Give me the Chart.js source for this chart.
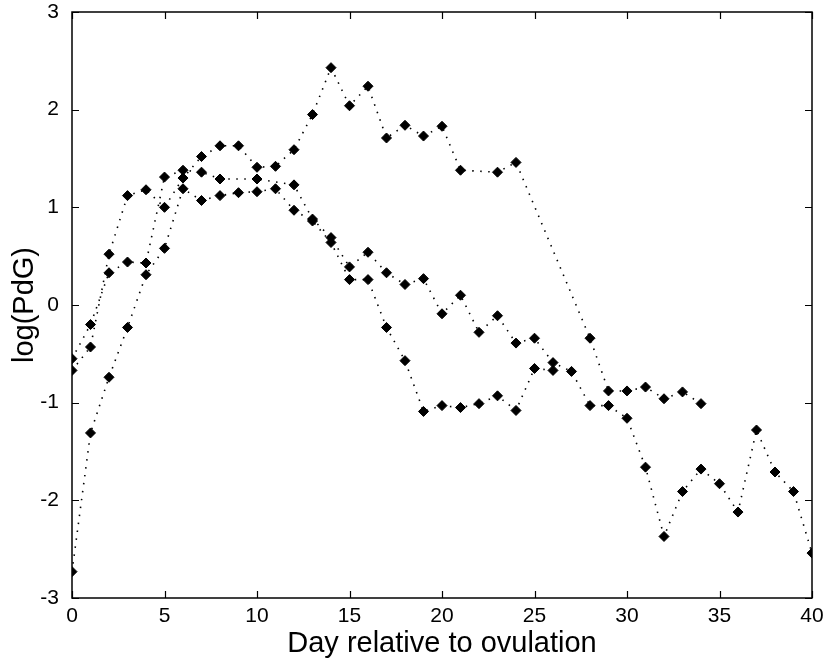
<!DOCTYPE html>
<html>
<head>
<meta charset="utf-8">
<script src="https://cdn.jsdelivr.net/npm/chart.js@4/dist/chart.umd.min.js"></script>
<style>
  html, body { margin: 0; padding: 0; background: #ffffff; }
  #wrap { width: 825px; height: 662px; }
</style>
</head>
<body>
<div id="wrap"><canvas id="c" width="825" height="662"></canvas></div>
<script>
// ---- data ----
const xTitle = "Day relative to ovulation";
const yTitle = "log(PdG)";
const xTicks = [0, 5, 10, 15, 20, 25, 30, 35, 40];
const yTicks = [-3, -2, -1, 0, 1, 2, 3];

const daysA = [0, 1, 2, 3, 4, 5, 6, 7, 8, 9, 10, 11, 12, 13, 14, 15, 16, 17, 18, 19, 20, 21, 23, 24, 28, 29, 30, 31, 32, 33, 34];
const valsA = [-0.67, -0.43, 0.52, 1.12, 1.18, 1.00, 1.30, 1.52, 1.63, 1.63, 1.41, 1.42, 1.59, 1.95, 2.43, 2.04, 2.24, 1.71, 1.84, 1.73, 1.83, 1.38, 1.36, 1.46, -0.34, -0.88, -0.88, -0.84, -0.96, -0.89, -1.01];

const daysB = [0, 1, 2, 3, 4, 5, 6, 7, 8, 10, 12, 13, 14, 15, 16, 17, 18, 19, 20, 21, 22, 23, 24, 25, 26, 27, 28, 29, 30, 31, 32, 33, 34, 35, 36, 37, 38, 39, 40];
const valsB = [-0.55, -0.20, 0.33, 0.44, 0.43, 1.31, 1.38, 1.36, 1.29, 1.29, 1.23, 0.88, 0.69, 0.39, 0.54, 0.33, 0.21, 0.27, -0.09, 0.10, -0.28, -0.11, -0.39, -0.34, -0.59, -0.68, -1.03, -1.03, -1.16, -1.66, -2.37, -1.91, -1.68, -1.83, -2.12, -1.28, -1.71, -1.91, -2.54];

const daysC = [0, 1, 2, 3, 4, 5, 6, 7, 8, 9, 10, 11, 12, 13, 14, 15, 16, 17, 18, 19, 20, 21, 22, 23, 24, 25, 26];
const valsC = [-2.73, -1.31, -0.74, -0.23, 0.31, 0.58, 1.19, 1.07, 1.12, 1.15, 1.16, 1.19, 0.97, 0.86, 0.64, 0.26, 0.26, -0.23, -0.57, -1.09, -1.03, -1.05, -1.01, -0.93, -1.08, -0.65, -0.67];

function pts(days, vals) { return days.map((d, i) => ({ x: d, y: vals[i] })); }

const FONT = "'Liberation Sans', Arial, sans-serif";

function series(days, vals) {
  return {
    data: pts(days, vals),
    showLine: true,
    borderColor: '#000',
    borderWidth: 1.6,
    borderDash: [1.5, 6.5],
    borderCapStyle: 'butt',
    pointStyle: 'rectRot',
    pointRadius: 5,
    pointBackgroundColor: '#000',
    pointBorderColor: '#000',
    pointBorderWidth: 1,
    tension: 0
  };
}

// frame + inward ticks on all four sides (MATLAB style)
const framePlugin = {
  id: 'frame',
  afterDraw(chart) {
    const { ctx, chartArea: a, scales } = chart;
    ctx.save();
    ctx.strokeStyle = '#000';
    ctx.lineWidth = 1.5;
    ctx.strokeRect(a.left, a.top, a.right - a.left, a.bottom - a.top);
    ctx.lineWidth = 1.2;
    const L = 7;
    ctx.beginPath();
    scales.x.ticks.forEach(t => {
      const px = Math.round(scales.x.getPixelForValue(t.value)) + 0.5;
      ctx.moveTo(px, a.bottom); ctx.lineTo(px, a.bottom - L);
      ctx.moveTo(px, a.top); ctx.lineTo(px, a.top + L);
    });
    scales.y.ticks.forEach(t => {
      const py = Math.round(scales.y.getPixelForValue(t.value)) + 0.5;
      ctx.moveTo(a.left, py); ctx.lineTo(a.left + L, py);
      ctx.moveTo(a.right, py); ctx.lineTo(a.right - L, py);
    });
    ctx.stroke();
    ctx.restore();
  }
};

const bgPlugin = {
  id: 'bg',
  beforeDraw(chart) {
    const ctx = chart.ctx;
    ctx.save();
    ctx.fillStyle = '#fff';
    ctx.fillRect(0, 0, chart.width, chart.height);
    ctx.restore();
  }
};

new Chart(document.getElementById('c'), {
  type: 'scatter',
  data: {
    datasets: [series(daysA, valsA), series(daysB, valsB), series(daysC, valsC)]
  },
  options: {
    responsive: false,
    animation: false,
    events: [],
    layout: { padding: { top: 12, right: 13, left: 0, bottom: 0 } },
    plugins: { legend: { display: false }, tooltip: { enabled: false } },
    scales: {
      x: {
        type: 'linear',
        min: xTicks[0],
        max: xTicks[xTicks.length - 1],
        afterBuildTicks(scale) { scale.ticks = xTicks.map(v => ({ value: v })); },
        afterFit(scale) { scale.height = 64; scale.paddingLeft = 0; scale.paddingRight = 0; },
        grid: { display: false, drawTicks: false },
        border: { display: false },
        ticks: { color: '#000', padding: 6, font: { family: FONT, size: 21 }, maxRotation: 0, autoSkip: false },
        title: { display: true, text: xTitle, color: '#000', font: { family: FONT, size: 29 }, padding: { top: 0, bottom: 1 } }
      },
      y: {
        type: 'linear',
        min: yTicks[0],
        max: yTicks[yTicks.length - 1],
        afterBuildTicks(scale) { scale.ticks = yTicks.map(v => ({ value: v })); },
        afterFit(scale) { scale.width = 72; scale.paddingTop = 0; scale.paddingBottom = 0; },
        grid: { display: false, drawTicks: false },
        border: { display: false },
        ticks: { color: '#000', padding: 13, font: { family: FONT, size: 21 }, autoSkip: false },
        title: { display: true, text: yTitle, color: '#000', font: { family: FONT, size: 29 }, padding: { top: 8, bottom: 0 } }
      }
    }
  },
  plugins: [bgPlugin, framePlugin]
});
</script>
</body>
</html>
